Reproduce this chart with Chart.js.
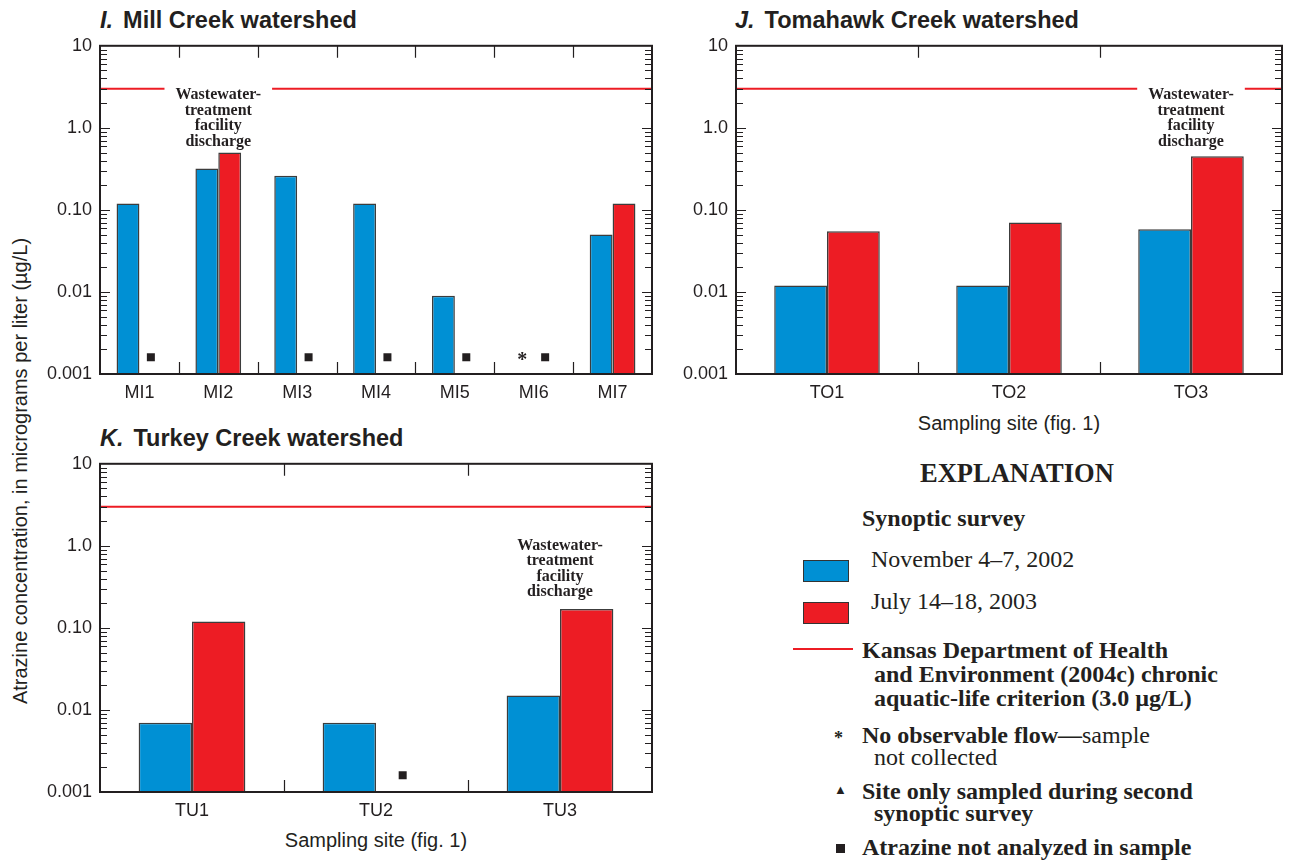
<!DOCTYPE html>
<html>
<head>
<meta charset="utf-8">
<script src="https://cdn.jsdelivr.net/npm/chart.js@4.4.0/dist/chart.umd.min.js"></script>
<style>
body { margin: 0; background: #fff; width: 1290px; height: 862px; position: relative; overflow: hidden; color: #231f20;
  font-family: 'Liberation Sans Narrow', 'Liberation Sans', sans-serif; }
canvas { position: absolute; }
.t { position: absolute; white-space: nowrap; }
.ptitle { font-weight: bold; font-size: 23.5px; line-height: 24px; }
.ptitle i { margin-right: 10px; }
.xt { font-size: 20px; line-height: 20px; text-align: center; width: 300px; }
.lg { font-family: 'Liberation Serif', serif; font-size: 24px; line-height: 24px; }
.b { font-weight: bold; }
.sw { position: absolute; width: 46px; height: 22px; border: 1px solid #333; box-sizing: border-box; }
</style>
</head>
<body>

<div class="t ptitle" style="left:100px; top:8px;"><i>I.</i>Mill Creek watershed</div>
<div class="t ptitle" style="left:735px; top:8px;"><i>J.</i>Tomahawk Creek watershed</div>
<div class="t ptitle" style="left:100px; top:426px;"><i>K.</i>Turkey Creek watershed</div>

<div class="t" style="left:-220px; top:461px; width:480px; text-align:center; font-size:20px; line-height:20px; transform: rotate(-90deg);">Atrazine concentration, in micrograms per liter (µg/L)</div>

<div class="t xt" style="left:859px; top:413px;">Sampling site (fig. 1)</div>
<div class="t xt" style="left:226px; top:830px;">Sampling site (fig. 1)</div>

<canvas id="chartMill" width="630" height="393" style="left:40px; top:27px;"></canvas>
<canvas id="chartTomahawk" width="620" height="393" style="left:676px; top:27px;"></canvas>
<canvas id="chartTurkey" width="630" height="393" style="left:40px; top:445px;"></canvas>

<!-- explanation -->
<div class="t lg b" style="left:920px; top:459px; font-size:26.5px; line-height:28px;">EXPLANATION</div>
<div class="t lg b" style="left:862px; top:506px;">Synoptic survey</div>
<div class="sw" style="left:803px; top:560px; background:#0090d4;"></div>
<div class="t lg" style="left:871px; top:547px;">November 4–7, 2002</div>
<div class="sw" style="left:803px; top:602px; background:#ed1c24;"></div>
<div class="t lg" style="left:871px; top:589px;">July 14–18, 2003</div>
<div class="t" style="left:793px; top:648px; width:60px; height:2px; background:#ed1c24;"></div>
<div class="t lg b" style="left:862px; top:638px;">Kansas Department of Health<br>&nbsp;&nbsp;and Environment (2004c) chronic<br>&nbsp;&nbsp;aquatic-life criterion (3.0 µg/L)</div>
<div class="t lg b" style="left:834px; top:726px; font-size:18px;">*</div>
<div class="t lg" style="left:862px; top:724px; line-height:22px;"><span class="b">No observable flow—</span>sample<br>&nbsp;&nbsp;not collected</div>
<div class="t lg" style="left:834px; top:783px; font-size:13px; line-height:13px;">▲</div>
<div class="t lg b" style="left:862px; top:780px; line-height:22px;">Site only sampled during second<br>&nbsp;&nbsp;synoptic survey</div>
<div class="t" style="left:836px; top:844px; width:9px; height:9px; background:#231f20;"></div>
<div class="t lg b" style="left:862px; top:835px;">Atrazine not analyzed in sample</div>

<script>
var BLUE = '#0090d4';
var RED = '#ed1c24';
var INK = '#231f20';
var EDGE = '#3c3c3c';

var yTickValues = [0.001, 0.01, 0.1, 1, 10];
var yTickLabels = ['0.001', '0.01', '0.10', '1.0', '10'];
var criterion = 3.0;
var markerLevel = 0.0016;

// I. Mill Creek
var millSites = ['MI1', 'MI2', 'MI3', 'MI4', 'MI5', 'MI6', 'MI7'];
var millNov = [0.12, 0.32, 0.26, 0.12, 0.009, null, 0.05];
var millJul = [null, 0.50, null, null, null, null, 0.12];
var millNoFlowNov = [0, 0, 0, 0, 0, 1, 0];
var millNotAnalyzedJul = [1, 0, 1, 1, 1, 1, 0];

// J. Tomahawk Creek
var tomSites = ['TO1', 'TO2', 'TO3'];
var tomNov = [0.012, 0.012, 0.058];
var tomJul = [0.055, 0.070, 0.45];

// K. Turkey Creek
var turSites = ['TU1', 'TU2', 'TU3'];
var turNov = [0.007, 0.007, 0.015];
var turJul = [0.12, null, 0.17];
var turNotAnalyzedJul = [0, 1, 0];

var noteLines = ['Wastewater-', 'treatment', 'facility', 'discharge'];

var tickFont = { family: "'Liberation Sans Narrow', 'Liberation Sans', sans-serif", size: 18 };

var panelExtras = {
    id: 'panelExtras',
    afterDatasetsDraw: function (chart, args, opts) {
        var ctx = chart.ctx;
        var area = chart.chartArea;
        var xs = chart.scales.x;
        var ys = chart.scales.y;
        ctx.save();

        // criterion line
        var yc = ys.getPixelForValue(criterion);
        ctx.strokeStyle = RED;
        ctx.lineWidth = 2;
        ctx.beginPath();
        ctx.moveTo(area.left, yc);
        ctx.lineTo(area.right, yc);
        ctx.stroke();

        // wastewater note
        if (opts.note) {
            var cx = xs.getPixelForValue(opts.note.index);
            var ty = ys.getPixelForValue(opts.note.value);
            ctx.font = 'bold 16px "Liberation Serif"';
            var w = 0;
            noteLines.forEach(function (l) { w = Math.max(w, ctx.measureText(l).width); });
            if (opts.note.gap) {
                ctx.fillStyle = '#fff';
                ctx.fillRect(cx - w / 2 - 11, yc - 3, w + 22, 6);
            }
            ctx.fillStyle = INK;
            ctx.textAlign = 'center';
            ctx.textBaseline = 'middle';
            noteLines.forEach(function (l, i) { ctx.fillText(l, cx, ty + i * 15.5); });
        }

        // markers
        ctx.fillStyle = INK;
        (opts.markers || []).forEach(function (m) {
            var meta = chart.getDatasetMeta(m.dataset);
            m.flags.forEach(function (f, i) {
                if (!f) return;
                var px = meta.data[i].x;
                var py = ys.getPixelForValue(markerLevel);
                if (m.style === 'rect') {
                    ctx.fillRect(px - 4, py - 4, 8, 8);
                } else {
                    ctx.font = 'bold 20px "Liberation Serif"';
                    ctx.textAlign = 'center';
                    ctx.textBaseline = 'middle';
                    ctx.fillText('*', px, py + 4);
                }
            });
        });

        // log ticks, inside, both sides
        ctx.strokeStyle = INK;
        ctx.lineWidth = 1.2;
        ctx.beginPath();
        for (var d = -3; d < 1; d++) {
            for (var k = 1; k < 10; k++) {
                var py = Math.round(ys.getPixelForValue(k * Math.pow(10, d))) + 0.5;
                var len = k === 1 ? 10 : 7;
                ctx.moveTo(area.left, py); ctx.lineTo(area.left + len, py);
                ctx.moveTo(area.right, py); ctx.lineTo(area.right - len, py);
            }
        }
        // category separators
        for (var i = 1; i < chart.data.labels.length; i++) {
            var sx = Math.round((xs.getPixelForValue(i - 1) + xs.getPixelForValue(i)) / 2) + 0.5;
            ctx.moveTo(sx, area.top); ctx.lineTo(sx, area.top + 12);
            ctx.moveTo(sx, area.bottom); ctx.lineTo(sx, area.bottom - 12);
        }
        ctx.stroke();

        // frame
        ctx.lineWidth = 2;
        ctx.strokeRect(area.left, area.top, area.right - area.left, area.bottom - area.top);
        ctx.restore();
    }
};

makeChart = function (id, labels, nov, jul, padRight, extras) {
    return new Chart(document.getElementById(id), {
        type: 'bar',
        data: {
            labels: labels,
            datasets: [
                { label: 'November 4–7, 2002', data: nov, backgroundColor: BLUE, borderColor: EDGE, borderWidth: 1.5,
                  categoryPercentage: 0.58, barPercentage: 1 },
                { label: 'July 14–18, 2003', data: jul, backgroundColor: RED, borderColor: EDGE, borderWidth: 1.5,
                  categoryPercentage: 0.58, barPercentage: 1 }
            ]
        },
        options: {
            responsive: false,
            animation: false,
            layout: { padding: { top: 0, right: padRight, left: 0, bottom: 0 } },
            plugins: {
                legend: { display: false },
                tooltip: { enabled: false },
                panelExtras: extras
            },
            scales: {
                x: {
                    grid: { display: false, drawTicks: false },
                    border: { display: false },
                    ticks: { font: tickFont, color: INK, padding: 8 },
                    afterFit: function (s) { s.height = 46; }
                },
                y: {
                    type: 'logarithmic',
                    min: 0.001,
                    max: 10,
                    grid: { display: false, drawTicks: false },
                    border: { display: false },
                    afterBuildTicks: function (axis) {
                        axis.ticks = yTickValues.map(function (v) { return { value: v }; });
                    },
                    ticks: {
                        font: tickFont, color: INK, padding: 8,
                        callback: function (v, i) { return yTickLabels[i]; }
                    },
                    afterFit: function (s) { s.width = 60; }
                }
            }
        },
        plugins: [panelExtras]
    });
}

makeChart('chartMill', millSites, millNov, millJul, 18, {
    note: { index: 1, value: 2.5, gap: true },
    markers: [
        { dataset: 1, flags: millNotAnalyzedJul, style: 'rect' },
        { dataset: 0, flags: millNoFlowNov, style: 'star' }
    ]
});
makeChart('chartTomahawk', tomSites, tomNov, tomJul, 14, {
    note: { index: 2, value: 2.5, gap: true },
    markers: []
});
makeChart('chartTurkey', turSites, turNov, turJul, 18, {
    note: { index: 2, value: 1.0, gap: false },
    markers: [
        { dataset: 1, flags: turNotAnalyzedJul, style: 'rect' }
    ]
});
</script>
</body>
</html>
